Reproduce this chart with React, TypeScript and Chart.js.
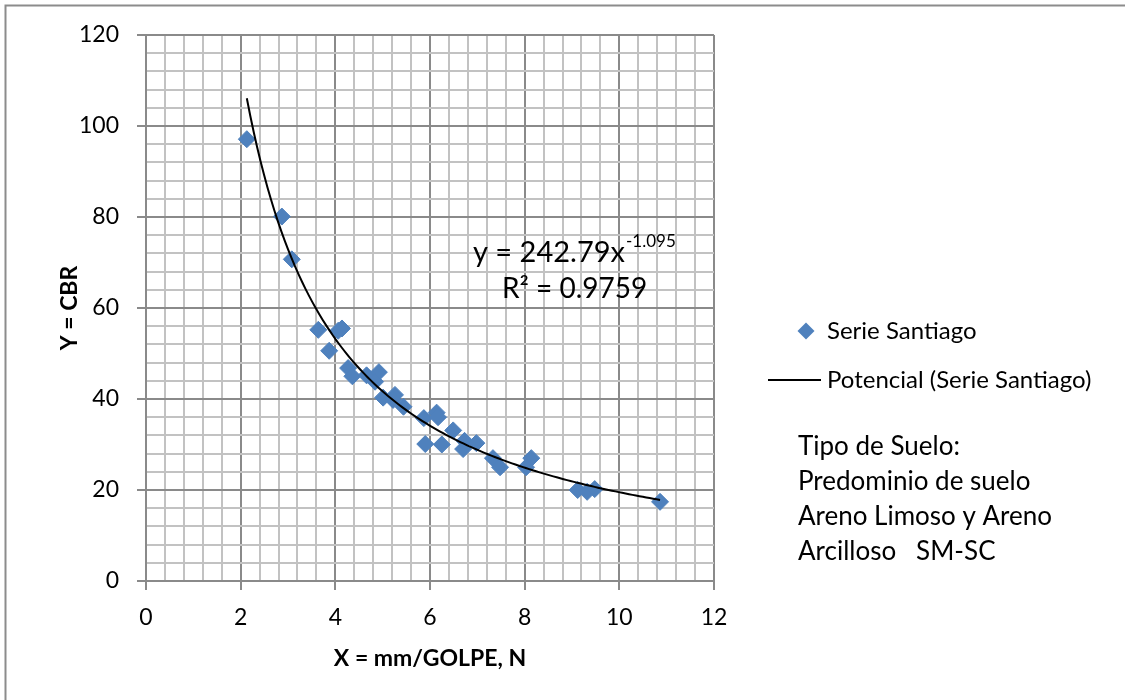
import React, { useEffect, useRef } from 'react';
import { Chart, registerables } from 'chart.js';

Chart.register(...registerables);

// ---- data ----
const xValues = [2.13, 2.87, 3.08, 3.64, 4.06, 4.14, 3.87, 4.27, 4.36, 4.66, 4.92, 4.84, 5.01, 5.26, 5.22, 5.44, 5.87, 6.14, 6.17, 5.9, 6.25, 6.49, 6.73, 6.7, 6.98, 7.33, 7.48, 8.14, 8.03, 9.12, 9.32, 9.48, 10.86];
const yValues = [97.1, 80.1, 70.7, 55.2, 55.0, 55.5, 50.6, 46.8, 45.0, 45.2, 45.9, 43.8, 40.3, 40.9, 39.8, 38.3, 35.8, 37.0, 36.0, 30.1, 30.0, 33.1, 30.8, 29.0, 30.3, 27.0, 25.0, 27.0, 25.0, 20.0, 19.6, 20.2, 17.4];

// power trend line shown in the chart: y = a * x^b
const trendA = 242.79;
const trendB = -1.095;
const trendSamples = 120;

const xTickLabels = ['0', '2', '4', '6', '8', '10', '12'];
const yTickLabels = ['0', '20', '40', '60', '80', '100', '120'];

const seriesName = 'Serie Santiago';
const trendName = 'Potencial (Serie Santiago)';
const equationMain = 'y = 242.79x';
const equationExp = '-1.095';
const rSquaredText = 'R² = 0.9759';
const soilLines = ['Tipo de Suelo:', 'Predominio de suelo', 'Areno Limoso y Areno', 'Arcilloso   SM-SC'];
const xTitle = 'X = mm/GOLPE, N';
const yTitle = 'Y = CBR';

const FONT = 'Lato, "Open Sans", sans-serif';
const BLUE = '#4F81BD';
const MAJOR = '#8a8a8a';
const MINOR = '#c2c2c2';

const isMajorX = (v: number) => Math.abs(v / 2 - Math.round(v / 2)) < 1e-6;
const isMajorY = (v: number) => Math.abs(v / 20 - Math.round(v / 20)) < 1e-6;

const overlayPlugin = {
  id: 'overlay',
  afterDraw(chart: any) {
    const ctx = chart.ctx as CanvasRenderingContext2D;
    ctx.save();
    // outer border
    ctx.strokeStyle = '#8c8c8c';
    ctx.lineWidth = 2;
    ctx.beginPath();
    ctx.moveTo(5.5, 700);
    ctx.lineTo(5.5, 5.5);
    ctx.lineTo(1125, 5.5);
    ctx.stroke();

    ctx.fillStyle = '#000';
    ctx.textBaseline = 'middle';
    ctx.textAlign = 'left';

    // equation
    ctx.font = `29px ${FONT}`;
    ctx.fillText(equationMain, 473, 253);
    const w = ctx.measureText(equationMain).width;
    ctx.font = `17px ${FONT}`;
    ctx.fillText(equationExp, 473 + w + 1, 242);
    ctx.font = `28px ${FONT}`;
    ctx.fillText(rSquaredText, 502, 289);

    // legend
    const dx = 806, dy = 331, r = 8.5;
    ctx.fillStyle = BLUE;
    ctx.beginPath();
    ctx.moveTo(dx, dy - r);
    ctx.lineTo(dx + r, dy);
    ctx.lineTo(dx, dy + r);
    ctx.lineTo(dx - r, dy);
    ctx.closePath();
    ctx.fill();
    ctx.strokeStyle = '#000';
    ctx.lineWidth = 2;
    ctx.beginPath();
    ctx.moveTo(768, 380);
    ctx.lineTo(821, 380);
    ctx.stroke();
    ctx.fillStyle = '#000';
    ctx.font = `24px ${FONT}`;
    ctx.fillText(seriesName, 827, 331);
    ctx.fillText(trendName, 827, 380);

    // soil text
    ctx.font = `26px ${FONT}`;
    soilLines.forEach((t, i) => {
      ctx.fillText(t, 798, 447 + i * 35);
    });
    ctx.restore();
  },
};

export default function App() {
  const canvasRef = useRef<HTMLCanvasElement | null>(null);

  useEffect(() => {
    if (!canvasRef.current) return;
    const points = xValues.map((x, i) => ({ x, y: yValues[i] }));
    const xMin = Math.min(...xValues);
    const xMax = Math.max(...xValues);
    const trend = Array.from({ length: trendSamples + 1 }, (_, i) => {
      const x = xMin + ((xMax - xMin) * i) / trendSamples;
      return { x, y: trendA * Math.pow(x, trendB) };
    });

    const chart = new Chart(canvasRef.current, {
      type: 'scatter',
      data: {
        datasets: [
          {
            label: trendName,
            type: 'line',
            data: trend,
            borderColor: '#000',
            borderWidth: 2,
            pointRadius: 0,
            fill: false,
            tension: 0,
          } as any,
          {
            label: seriesName,
            data: points,
            pointStyle: 'rectRot',
            pointRadius: 8.5,
            pointHoverRadius: 8.5,
            backgroundColor: BLUE,
            borderColor: BLUE,
            borderWidth: 1,
          },
        ],
      },
      options: {
        responsive: false,
        animation: false,
        events: [],
        layout: { padding: { left: 0, top: 35, right: 412, bottom: 0 } },
        plugins: {
          legend: { display: false },
          tooltip: { enabled: false },
        },
        scales: {
          x: {
            type: 'linear',
            min: 0,
            max: 12,
            ticks: {
              stepSize: 0.4,
              autoSkip: false,
              maxRotation: 0,
              padding: 14,
              color: '#000',
              font: { family: FONT, size: 23 },
              callback: (v: any) => (isMajorX(Number(v)) ? xTickLabels[Math.round(Number(v) / 2)] : ''),
            },
            grid: {
              color: (c: any) => (isMajorX(c.tick.value) ? MAJOR : MINOR),
              tickColor: (c: any) => (isMajorX(c.tick.value) ? MAJOR : 'rgba(0,0,0,0)'),
              lineWidth: 2,
              tickLength: 9,
            },
            border: { color: MAJOR, width: 2 },
            title: {
              display: true,
              text: xTitle,
              color: '#000',
              font: { family: FONT, size: 23, weight: 'bold' },
              padding: { top: 0, bottom: 28 },
            },
            afterFit: (s: any) => {
              s.height = 119;
              s.paddingLeft = 0;
              s.paddingRight = 0;
            },
          },
          y: {
            type: 'linear',
            min: 0,
            max: 120,
            ticks: {
              stepSize: 4,
              autoSkip: false,
              padding: 18,
              color: '#000',
              font: { family: FONT, size: 23 },
              callback: (v: any) => (isMajorY(Number(v)) ? yTickLabels[Math.round(Number(v) / 20)] : ''),
            },
            grid: {
              color: (c: any) => (isMajorY(c.tick.value) ? MAJOR : MINOR),
              tickColor: (c: any) => (isMajorY(c.tick.value) ? MAJOR : 'rgba(0,0,0,0)'),
              lineWidth: 2,
              tickLength: 9,
            },
            border: { color: MAJOR, width: 2 },
            title: {
              display: true,
              text: yTitle,
              color: '#000',
              font: { family: FONT, size: 23, weight: 'bold' },
              padding: { top: 56, bottom: 0 },
            },
            afterFit: (s: any) => {
              s.width = 146;
              s.paddingTop = 0;
              s.paddingBottom = 0;
            },
          },
        },
      },
      plugins: [overlayPlugin],
    });
    return () => chart.destroy();
  }, []);

  return (
    <div style={{ position: 'fixed', left: 0, top: 0, width: 1126, height: 700, background: '#fff' }}>
      <canvas ref={canvasRef} width={1126} height={700} style={{ display: 'block', width: 1126, height: 700 }} />
    </div>
  );
}
